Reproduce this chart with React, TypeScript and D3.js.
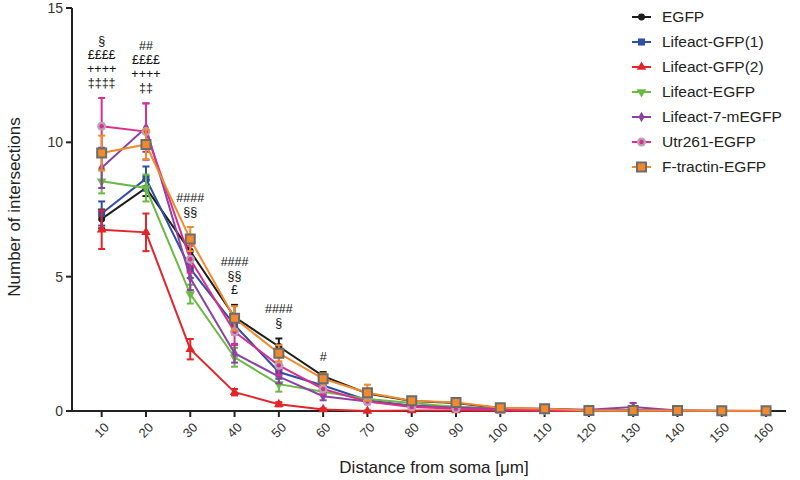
import React, { useEffect, useRef } from "react";
import * as d3 from "d3";

const distances = [10, 20, 30, 40, 50, 60, 70, 80, 90, 100, 110, 120, 130, 140, 150, 160];
const xTickLabels = distances.map(String);
const yTicks = [0, 5, 10, 15];

const seriesNames = ["EGFP", "Lifeact-GFP(1)", "Lifeact-GFP(2)", "Lifeact-EGFP", "Lifeact-7-mEGFP", "Utr261-EGFP", "F-tractin-EGFP"];

const egfpMean = [7.15, 8.3, 5.95, 3.5, 2.4, 1.3, 0.65, 0.37, 0.3, 0.1, 0.07, 0.02, 0.02, 0.01, 0, 0];
const egfpSem = [0.35, 0.3, 0.35, 0.45, 0.3, 0.15, 0.08, 0.06, 0.05, 0.03, 0.03, 0.02, 0.02, 0.01, 0, 0];
const gfp1Mean = [7.35, 8.65, 5.3, 3.2, 1.45, 0.95, 0.4, 0.2, 0.15, 0.08, 0.05, 0.02, 0.02, 0.01, 0, 0];
const gfp1Sem = [0.45, 0.45, 0.35, 0.35, 0.25, 0.15, 0.08, 0.05, 0.04, 0.03, 0.02, 0.02, 0.02, 0.01, 0, 0];
const gfp2Mean = [6.75, 6.65, 2.3, 0.7, 0.25, 0.06, 0.0, 0.02, 0.02, 0.01, 0, 0, 0, 0, 0, 0];
const gfp2Sem = [0.72, 0.7, 0.38, 0.12, 0.08, 0.04, 0.02, 0.02, 0.02, 0.01, 0, 0, 0, 0, 0, 0];
const lifeactEgfpMean = [8.55, 8.3, 4.35, 2.0, 1.0, 0.72, 0.45, 0.3, 0.15, 0.08, 0.05, 0.02, 0.01, 0.01, 0, 0];
const lifeactEgfpSem = [0.45, 0.5, 0.35, 0.35, 0.28, 0.12, 0.08, 0.05, 0.04, 0.03, 0.02, 0.01, 0.01, 0.01, 0, 0];
const lifeact7Mean = [9.05, 10.55, 4.95, 2.15, 1.28, 0.55, 0.35, 0.2, 0.12, 0.08, 0.08, 0.05, 0.15, 0.02, 0.01, 0];
const lifeact7Sem = [0.75, 0.9, 0.45, 0.35, 0.25, 0.15, 0.08, 0.05, 0.04, 0.03, 0.03, 0.03, 0.15, 0.02, 0.01, 0];
const utrMean = [10.6, 10.4, 5.65, 2.95, 1.7, 0.82, 0.35, 0.15, 0.08, 0.05, 0.04, 0.02, 0.02, 0.01, 0, 0];
const utrSem = [1.05, 1.05, 0.5, 0.5, 0.35, 0.2, 0.1, 0.06, 0.04, 0.03, 0.02, 0.02, 0.02, 0.01, 0, 0];
const ftractinMean = [9.6, 9.92, 6.4, 3.45, 2.15, 1.2, 0.68, 0.38, 0.32, 0.12, 0.08, 0.02, 0.02, 0.02, 0.01, 0.01];
const ftractinSem = [0.65, 0.55, 0.45, 0.45, 0.3, 0.2, 0.3, 0.08, 0.06, 0.04, 0.03, 0.02, 0.02, 0.02, 0.01, 0.01];

const annotX = [10, 20, 30, 40, 50, 60];
const annotLines = [
  ["§", "££££", "++++", "‡‡‡‡"],
  ["##", "££££", "++++", "‡‡"],
  ["####", "§§"],
  ["####", "§§", "£"],
  ["####", "§"],
  ["#"],
];

const FONT = "'Liberation Sans', Arial, Helvetica, sans-serif";

type Style = {
  color: string;
  symbol: d3.SymbolType;
  size: number;
  rotate?: number;
  fill: string;
  stroke?: string;
  strokeWidth?: number;
  inner?: { color: string; r: number };
};

const styles: Style[] = [
  { color: "#1c1c1c", symbol: d3.symbolCircle, size: 38, fill: "#1c1c1c" },
  { color: "#2f4ea0", symbol: d3.symbolSquare, size: 50, fill: "#2f4ea0" },
  { color: "#e2242b", symbol: d3.symbolTriangle, size: 40, fill: "#e2242b" },
  { color: "#6bb844", symbol: d3.symbolTriangle, size: 40, rotate: 180, fill: "#6bb844" },
  { color: "#8a44a0", symbol: d3.symbolDiamond, size: 32, fill: "#8a44a0" },
  { color: "#d8308c", symbol: d3.symbolCircle, size: 64, fill: "#b8a2b6", inner: { color: "#d8308c", r: 2.2 } },
  { color: "#f08a2c", symbol: d3.symbolSquare, size: 81, fill: "#f08a2c", stroke: "#6c6c6c", strokeWidth: 2 },
];

const means = [egfpMean, gfp1Mean, gfp2Mean, lifeactEgfpMean, lifeact7Mean, utrMean, ftractinMean];
const sems = [egfpSem, gfp1Sem, gfp2Sem, lifeactEgfpSem, lifeact7Sem, utrSem, ftractinSem];

export default function App() {
  const ref = useRef<SVGSVGElement>(null);

  useEffect(() => {
    const svg = d3.select(ref.current);
    svg.selectAll("*").remove();

    const x = d3.scaleLinear().domain([3.3, 164.5]).range([72, 786]);
    const y = d3.scaleLinear().domain([0, 15]).range([411, 8]);

    const axisG = svg.append("g");
    axisG.append("line").attr("x1", 72).attr("x2", 72).attr("y1", y(15)).attr("y2", y(0) + 1)
      .attr("stroke", "#222").attr("stroke-width", 2);
    axisG.append("line").attr("x1", 71).attr("x2", 786).attr("y1", y(0)).attr("y2", y(0))
      .attr("stroke", "#222").attr("stroke-width", 2);

    yTicks.forEach((t) => {
      axisG.append("line").attr("x1", 66).attr("x2", 72).attr("y1", y(t)).attr("y2", y(t))
        .attr("stroke", "#222").attr("stroke-width", 2);
      axisG.append("text").attr("x", 63).attr("y", y(t)).attr("dy", "0.35em")
        .attr("text-anchor", "end").attr("font-family", FONT).attr("font-size", 14)
        .attr("fill", "#333").text(String(t));
    });

    distances.forEach((d, i) => {
      const px = x(d);
      axisG.append("line").attr("x1", px).attr("x2", px).attr("y1", y(0)).attr("y2", y(0) + 6)
        .attr("stroke", "#222").attr("stroke-width", 2);
      axisG.append("text")
        .attr("transform", `translate(${px + 5},${y(0) + 14}) rotate(-45)`)
        .attr("text-anchor", "end").attr("dy", "0.35em")
        .attr("font-family", FONT).attr("font-size", 13).attr("fill", "#333")
        .text(xTickLabels[i]);
    });

    svg.append("text").attr("x", 434).attr("y", 473).attr("text-anchor", "middle")
      .attr("font-family", FONT).attr("font-size", 17).attr("fill", "#222")
      .text("Distance from soma [μm]");
    svg.append("text").attr("transform", `translate(20,207) rotate(-90)`).attr("text-anchor", "middle")
      .attr("font-family", FONT).attr("font-size", 17).attr("fill", "#222")
      .text("Number of intersections");

    const line = d3.line<number>().x((_, i) => x(distances[i])).y((v) => y(v));

    means.forEach((m, si) => {
      const st = styles[si];
      const g = svg.append("g");
      m.forEach((v, i) => {
        const e = sems[si][i];
        if (e <= 0) return;
        const px = x(distances[i]);
        g.append("line").attr("x1", px).attr("x2", px).attr("y1", y(v + e)).attr("y2", y(Math.max(0, v - e)))
          .attr("stroke", st.color).attr("stroke-width", 2);
        [v + e, Math.max(0, v - e)].forEach((ev) => {
          g.append("line").attr("x1", px - 3.5).attr("x2", px + 3.5).attr("y1", y(ev)).attr("y2", y(ev))
            .attr("stroke", st.color).attr("stroke-width", 2);
        });
      });
      g.append("path").attr("d", line(m)).attr("fill", "none").attr("stroke", st.color).attr("stroke-width", 2);
      const sym = d3.symbol().type(st.symbol).size(st.size);
      m.forEach((v, i) => {
        const px = x(distances[i]);
        g.append("path").attr("d", sym()!)
          .attr("transform", `translate(${px},${y(v)}) rotate(${st.rotate || 0})`)
          .attr("fill", st.fill).attr("stroke", st.stroke || "none").attr("stroke-width", st.strokeWidth || 0);
        if (st.inner) {
          g.append("circle").attr("cx", px).attr("cy", y(v)).attr("r", st.inner.r).attr("fill", st.inner.color);
        }
      });
    });

    annotX.forEach((ax, ai) => {
      const i = distances.indexOf(ax);
      let top = Infinity;
      means.forEach((m, si) => { top = Math.min(top, y(m[i] + sems[si][i])); });
      const lines = annotLines[ai];
      const lastBase = top - 11;
      lines.forEach((t, li) => {
        svg.append("text").attr("x", x(ax)).attr("y", lastBase - (lines.length - 1 - li) * 14)
          .attr("text-anchor", "middle").attr("font-family", FONT).attr("font-size", 12.5)
          .attr("fill", "#111").text(t);
      });
    });

    const lg = svg.append("g");
    seriesNames.forEach((name, si) => {
      const st = styles[si];
      const cy = 17 + si * 25;
      lg.append("line").attr("x1", 632).attr("x2", 651).attr("y1", cy).attr("y2", cy)
        .attr("stroke", st.color).attr("stroke-width", 2);
      const sym = d3.symbol().type(st.symbol).size(st.size);
      lg.append("path").attr("d", sym()!)
        .attr("transform", `translate(641.5,${cy}) rotate(${st.rotate || 0})`)
        .attr("fill", st.fill).attr("stroke", st.stroke || "none").attr("stroke-width", st.strokeWidth || 0);
      if (st.inner) lg.append("circle").attr("cx", 641.5).attr("cy", cy).attr("r", st.inner.r).attr("fill", st.inner.color);
      lg.append("text").attr("x", 662).attr("y", cy).attr("dy", "0.35em")
        .attr("font-family", FONT).attr("font-size", 15.5).attr("fill", "#222").text(name);
    });
  }, []);

  return (
    <svg ref={ref} width={800} height={480} style={{ position: "absolute", left: 0, top: 0, background: "#fff" }} />
  );
}
